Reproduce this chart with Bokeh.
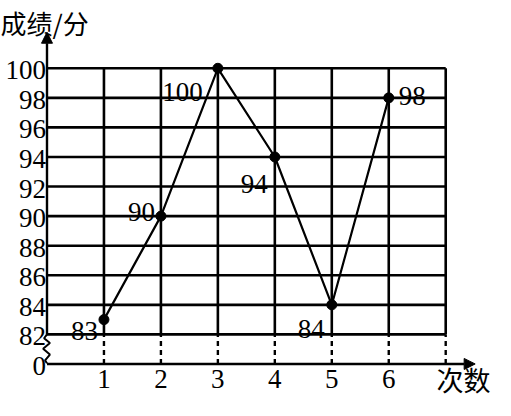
from bokeh.plotting import figure
from bokeh.models import Range1d, Arrow, NormalHead
from bokeh.core.properties import value
from bokeh.embed import file_html
from bokeh.resources import INLINE

# ---- data ----
attempts = [1, 2, 3, 4, 5, 6]
scores = [83, 90, 100, 94, 84, 98]
x_ticks = [1, 2, 3, 4, 5, 6]
x_tick_labels = ["1", "2", "3", "4", "5", "6"]
y_ticks = [80, 82, 84, 86, 88, 90, 92, 94, 96, 98, 100]
y_tick_labels = ["0", "82", "84", "86", "88", "90", "92", "94", "96", "98", "100"]
grid_rows = [82, 84, 86, 88, 90, 92, 94, 96, 98, 100]
grid_cols = [1, 2, 3, 4, 5, 6, 7]
y_title = "成绩/分"
x_title = "次数"

# ---- layout / style (not data) ----
W, H = 495, 400
SX, SY = W / 511, H / 416          # squeeze the 511x416 design into the window
S = (SX + SY) / 2
Y_BASE = 80                        # value where the broken axis' "0" is drawn
PX_X = 58.8 * SX                   # px per x unit
PX_Y = 15.375 * SY                 # px per y unit
ORIGIN_X, ORIGIN_Y = 48 * SX, 378 * SY
X_START, X_END = -ORIGIN_X / PX_X, (W - ORIGIN_X) / PX_X
Y_START, Y_END = Y_BASE - (H - ORIGIN_Y) / PX_Y, Y_BASE + ORIGIN_Y / PX_Y
SERIF = "'Liberation Serif', serif"
CJK = "'Noto Sans CJK SC', sans-serif"
FS = "%dpx" % round(28 * S)
# label placement per point: (x_offset px, y_offset px, align)
label_style = [(-6, 11, "right"), (-6, -4, "right"), (-15, 25, "right"),
               (-7, 28, "right"), (-7, 25, "right"), (10, -2, "left")]

p = figure(width=W, height=H, x_range=Range1d(X_START, X_END), y_range=Range1d(Y_START, Y_END),
           output_backend="svg", toolbar_location=None,
           x_axis_location=None, y_axis_location=None,
           min_border=0, background_fill_color="white", border_fill_color="white",
           outline_line_color=None)
p.xgrid.visible = False
p.ygrid.visible = False

top = max(grid_rows)
bot = min(grid_rows)
right = max(grid_cols)

# horizontal grid lines
p.segment(x0=[0] * len(grid_rows), y0=grid_rows, x1=[right] * len(grid_rows), y1=grid_rows,
          line_color="black", line_width=2.6)
# vertical grid lines
p.segment(x0=grid_cols, y0=[bot] * len(grid_cols), x1=grid_cols, y1=[top] * len(grid_cols),
          line_color="black", line_width=2.6)
# dashed drops to the x axis
p.segment(x0=grid_cols, y0=[Y_BASE] * len(grid_cols), x1=grid_cols, y1=[bot] * len(grid_cols),
          line_color="black", line_width=2.4, line_dash="5 4")

# y axis with arrow
p.add_layout(Arrow(x_start=0, y_start=bot, x_end=0, y_end=Y_BASE + 345 * SY / PX_Y,
                   line_color="black", line_width=2.4,
                   end=NormalHead(size=11, fill_color="black", line_color="black", line_width=1)))
# x axis with arrow
p.add_layout(Arrow(x_start=0, y_start=Y_BASE, x_end=442 * SX / PX_X, y_end=Y_BASE,
                   line_color="black", line_width=2.4,
                   end=NormalHead(size=11, fill_color="black", line_color="black", line_width=1)))

# axis break zigzag between 0 and 82 (pixel offsets converted to data units)
zz_px = [(0, 0), (-3, 4), (3, 9), (-4, 15), (3, 21), (-2, 27), (0, 30)]
p.line(x=[dx * SX / PX_X for dx, dy in zz_px], y=[bot - dy * SY / PX_Y for dx, dy in zz_px],
       line_color="black", line_width=2)

# tick labels
p.text(x=[-1 * SX / PX_X] * len(y_ticks), y=y_ticks, text=y_tick_labels, y_offset=2,
       text_align="right", text_baseline="middle", text_font=value(SERIF),
       text_font_size=FS, text_color="black")
p.text(x=x_ticks, y=[Y_BASE] * len(x_ticks), text=x_tick_labels, y_offset=6,
       text_align="center", text_baseline="top", text_font=value(SERIF),
       text_font_size=FS, text_color="black")

# data line + markers
p.line(attempts, scores, line_color="black", line_width=2.2)
p.scatter(attempts, scores, size=10, fill_color="black", line_color="black")

# point labels
for i, (xo, yo, al) in enumerate(label_style):
    p.text(x=[attempts[i]], y=[scores[i]], text=[str(scores[i])],
           x_offset=round(xo * SX), y_offset=round(yo * SY),
           text_align=al, text_baseline="alphabetic", text_font=value(SERIF),
           text_font_size=FS, text_color="black")

# axis titles
p.text(x=[X_START], y=[Y_END], text=[y_title], text_align="left", text_baseline="top",
       text_font=value(CJK), text_font_size="26px", text_color="black", y_offset=3)
p.text(x=[(450 * SX - ORIGIN_X) / PX_X], y=[Y_START], text=[x_title], text_align="left",
       text_baseline="bottom", text_font=value(CJK), text_font_size="27px", text_color="black",
       y_offset=-2)

open("out.html", "w").write(file_html(p, INLINE))
